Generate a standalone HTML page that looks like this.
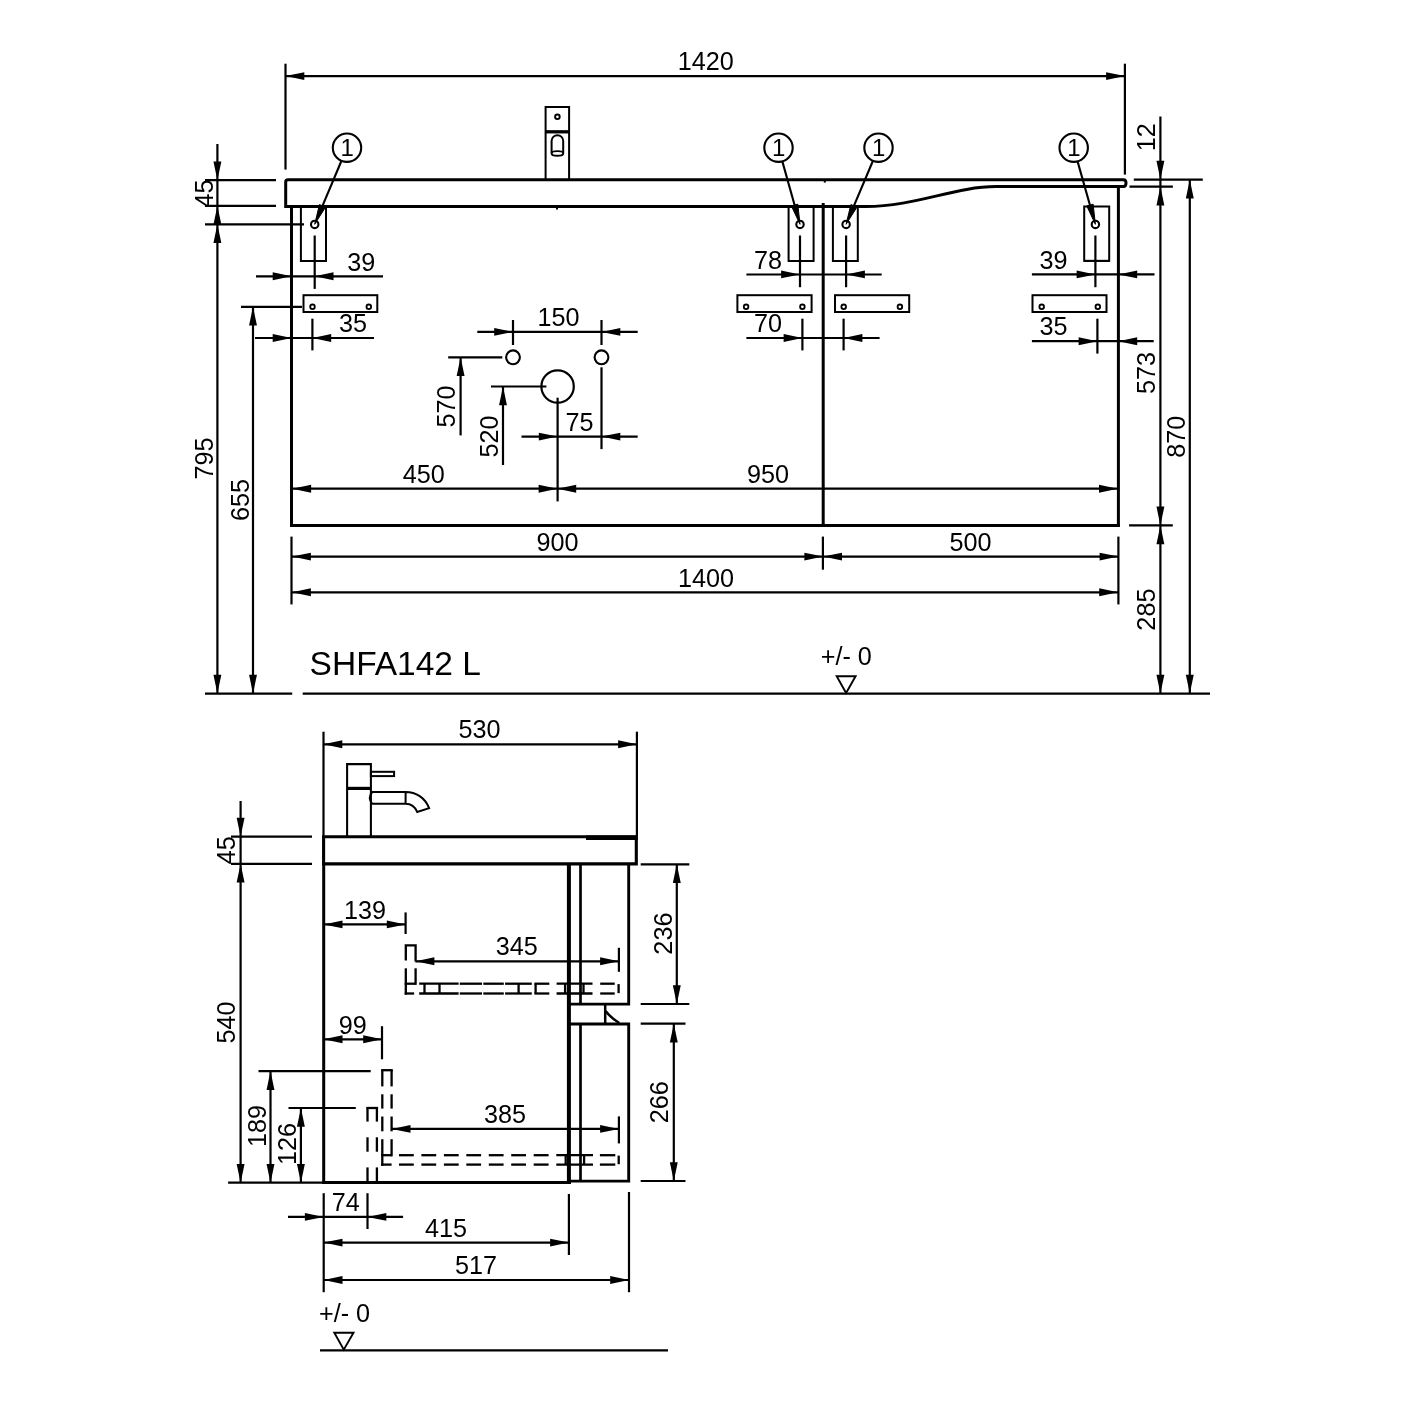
<!DOCTYPE html>
<html><head><meta charset="utf-8"><title>SHFA142 L</title>
<style>
html,body{margin:0;padding:0;background:#fff;}
svg{display:block;will-change:transform;}
svg text{font-family:"Liberation Sans",Arial,sans-serif;fill:#000;stroke:none;}
</style></head><body>
<svg width="1404" height="1404" viewBox="0 0 1404 1404" stroke="#000" fill="none" stroke-linecap="butt">
<rect x="0" y="0" width="1404" height="1404" fill="#fff" stroke="none"/>
<line x1="285.5" y1="63.7" x2="285.5" y2="169.6" stroke-width="2.2"/>
<line x1="1124.9" y1="63.7" x2="1124.9" y2="174.6" stroke-width="2.2"/>
<line x1="285.5" y1="76.1" x2="1124.9" y2="76.1" stroke-width="2.2"/>
<polygon points="285.5,76.1 304.3,72.15 304.3,80.05" fill="#000" stroke="none"/>
<polygon points="1124.9,76.1 1106.1,72.15 1106.1,80.05" fill="#000" stroke="none"/>
<text x="705.7" y="70.3" font-size="25.2" text-anchor="middle">1420</text>
<path d="M285.7,206.5 L285.7,182 Q285.7,179.8 288,179.8 L1123.5,179.8 Q1126,179.8 1126,183 Q1126,186.6 1123.5,186.6 L996,186.6 C955,186.6 915,206.5 866,206.5 Z" stroke-width="3.0" fill="none"/>
<line x1="291.5" y1="206" x2="291.5" y2="526.9" stroke-width="3.0"/>
<line x1="290" y1="525.4" x2="1119.9" y2="525.4" stroke-width="3.0"/>
<line x1="1118.4" y1="186.6" x2="1118.4" y2="526.9" stroke-width="3.0"/>
<line x1="823.2" y1="203" x2="823.2" y2="526.9" stroke-width="3.0"/>
<polyline points="545.6,179.8 545.6,107 569.1,107 569.1,179.8" stroke-width="2.0" fill="none"/>
<line x1="545.6" y1="131.8" x2="569.1" y2="131.8" stroke-width="3.3"/>
<circle cx="557.4" cy="116.8" r="2.3" stroke-width="1.9" fill="none"/>
<path d="M551.6,153.3 L551.6,141 A5.8,5.8 0 0 1 563.2,141 L563.2,153.3" stroke-width="2.0" fill="none"/>
<ellipse cx="557.4" cy="153.4" rx="5.8" ry="2.3" stroke-width="1.9" fill="none"/>
<line x1="557" y1="206.5" x2="557" y2="209.6" stroke-width="2.0"/>
<line x1="824.8" y1="180" x2="824.8" y2="182.6" stroke-width="2.0"/>
<polyline points="300.9,206.5 300.9,260.9 326,260.9 326,206.5" stroke-width="2.0" fill="none"/>
<circle cx="314.7" cy="224.4" r="3.7" stroke-width="2.1" fill="none"/>
<circle cx="347" cy="147.7" r="14.2" stroke-width="2.1" fill="none"/>
<text x="347.3" y="155.6" font-size="24" text-anchor="middle">1</text>
<line x1="341.48" y1="160.78" x2="318.59" y2="215.09" stroke-width="2.1"/>
<polygon points="314.7,224.3 319.43,204.59 325.51,207.15" fill="#000" stroke="#000" stroke-width="1.0" stroke-linejoin="round"/>
<line x1="314.7" y1="235.5" x2="314.7" y2="288.9" stroke-width="2.2"/>
<polyline points="788.6,206.5 788.6,260.9 813.6,260.9 813.6,206.5" stroke-width="2.0" fill="none"/>
<circle cx="800" cy="224.4" r="3.7" stroke-width="2.1" fill="none"/>
<circle cx="778.5" cy="147.7" r="14.2" stroke-width="2.1" fill="none"/>
<text x="778.8" y="155.6" font-size="24" text-anchor="middle">1</text>
<line x1="782.34" y1="161.37" x2="797.3" y2="214.67" stroke-width="2.1"/>
<polygon points="800,224.3 791.42,205.94 797.77,204.15" fill="#000" stroke="#000" stroke-width="1.0" stroke-linejoin="round"/>
<line x1="800" y1="235.5" x2="800" y2="287.2" stroke-width="2.2"/>
<polyline points="832.9,206.5 832.9,260.9 857.8,260.9 857.8,206.5" stroke-width="2.0" fill="none"/>
<circle cx="846.1" cy="224.4" r="3.7" stroke-width="2.1" fill="none"/>
<circle cx="878.5" cy="147.7" r="14.2" stroke-width="2.1" fill="none"/>
<text x="878.8" y="155.6" font-size="24" text-anchor="middle">1</text>
<line x1="872.97" y1="160.78" x2="850.0" y2="215.09" stroke-width="2.1"/>
<polygon points="846.1,224.3 850.85,204.59 856.93,207.17" fill="#000" stroke="#000" stroke-width="1.0" stroke-linejoin="round"/>
<line x1="846.1" y1="235.5" x2="846.1" y2="287.2" stroke-width="2.2"/>
<rect x="1084.2" y="206.5" width="25" height="54.4" stroke-width="2.0" fill="none"/>
<polyline points="1084.2,260.9 1084.2,260.9 1109.2,260.9 1109.2,260.9" stroke-width="2.0" fill="none"/>
<circle cx="1095.4" cy="224.4" r="3.7" stroke-width="2.1" fill="none"/>
<circle cx="1073.7" cy="147.7" r="14.2" stroke-width="2.1" fill="none"/>
<text x="1074.0" y="155.6" font-size="24" text-anchor="middle">1</text>
<line x1="1077.57" y1="161.36" x2="1092.67" y2="214.68" stroke-width="2.1"/>
<polygon points="1095.4,224.3 1086.77,205.96 1093.12,204.16" fill="#000" stroke="#000" stroke-width="1.0" stroke-linejoin="round"/>
<line x1="1095.4" y1="235.5" x2="1095.4" y2="287.2" stroke-width="2.2"/>
<rect x="303.5" y="295.2" width="73.8" height="16.8" stroke-width="2.0" fill="none"/>
<circle cx="312.5" cy="306.8" r="2.3" stroke-width="1.8" fill="none"/>
<circle cx="368.8" cy="306.8" r="2.3" stroke-width="1.8" fill="none"/>
<rect x="737.4" y="295.2" width="74.2" height="16.8" stroke-width="2.0" fill="none"/>
<circle cx="746.1" cy="306.8" r="2.3" stroke-width="1.8" fill="none"/>
<circle cx="802.4" cy="306.8" r="2.3" stroke-width="1.8" fill="none"/>
<rect x="835" y="295.2" width="74.2" height="16.8" stroke-width="2.0" fill="none"/>
<circle cx="843.7" cy="306.8" r="2.3" stroke-width="1.8" fill="none"/>
<circle cx="899.9" cy="306.8" r="2.3" stroke-width="1.8" fill="none"/>
<rect x="1032.5" y="295.2" width="74.0" height="16.8" stroke-width="2.0" fill="none"/>
<circle cx="1041.7" cy="306.8" r="2.3" stroke-width="1.8" fill="none"/>
<circle cx="1097.8" cy="306.8" r="2.3" stroke-width="1.8" fill="none"/>
<line x1="256" y1="276.3" x2="383" y2="276.3" stroke-width="2.2"/>
<polygon points="291.5,276.3 272.7,272.35 272.7,280.25" fill="#000" stroke="none"/>
<polygon points="314.7,276.3 333.5,272.35 333.5,280.25" fill="#000" stroke="none"/>
<text x="361.2" y="271.0" font-size="25.2" text-anchor="middle">39</text>
<line x1="255" y1="338" x2="374" y2="338" stroke-width="2.2"/>
<line x1="312.4" y1="318.7" x2="312.4" y2="350.4" stroke-width="2.2"/>
<polygon points="291.5,338 272.7,334.05 272.7,341.95" fill="#000" stroke="none"/>
<polygon points="312.4,338 331.2,334.05 331.2,341.95" fill="#000" stroke="none"/>
<text x="352.9" y="331.5" font-size="25.2" text-anchor="middle">35</text>
<line x1="746.4" y1="274.5" x2="881.7" y2="274.5" stroke-width="2.2"/>
<polygon points="799.9,274.4 781.1,270.45 781.1,278.35" fill="#000" stroke="none"/>
<polygon points="846.1,274.4 864.9,270.45 864.9,278.35" fill="#000" stroke="none"/>
<text x="768" y="268.9" font-size="25.2" text-anchor="middle">78</text>
<line x1="746.4" y1="338" x2="879.6" y2="338" stroke-width="2.2"/>
<line x1="802.4" y1="318.7" x2="802.4" y2="350.4" stroke-width="2.2"/>
<line x1="843.6" y1="318.7" x2="843.6" y2="350.4" stroke-width="2.2"/>
<polygon points="802.4,338 783.6,334.05 783.6,341.95" fill="#000" stroke="none"/>
<polygon points="843.6,338 862.4,334.05 862.4,341.95" fill="#000" stroke="none"/>
<text x="768" y="331.9" font-size="25.2" text-anchor="middle">70</text>
<line x1="1031.9" y1="274.4" x2="1154.5" y2="274.4" stroke-width="2.2"/>
<polygon points="1095.4,274.4 1076.6,270.45 1076.6,278.35" fill="#000" stroke="none"/>
<polygon points="1118.4,274.4 1137.2,270.45 1137.2,278.35" fill="#000" stroke="none"/>
<text x="1053.5" y="268.9" font-size="25.2" text-anchor="middle">39</text>
<line x1="1031.9" y1="341.2" x2="1153.7" y2="341.2" stroke-width="2.2"/>
<line x1="1097.4" y1="318.7" x2="1097.4" y2="353.6" stroke-width="2.2"/>
<polygon points="1097.4,341.2 1078.6,337.25 1078.6,345.15" fill="#000" stroke="none"/>
<polygon points="1118.4,341.2 1137.2,337.25 1137.2,345.15" fill="#000" stroke="none"/>
<text x="1053.5" y="334.6" font-size="25.2" text-anchor="middle">35</text>
<line x1="477.3" y1="331.9" x2="637.7" y2="331.9" stroke-width="2.2"/>
<line x1="513" y1="320" x2="513" y2="345" stroke-width="2.2"/>
<line x1="601.5" y1="320" x2="601.5" y2="345" stroke-width="2.2"/>
<polygon points="513,331.9 494.2,327.95 494.2,335.85" fill="#000" stroke="none"/>
<polygon points="601.5,331.9 620.3,327.95 620.3,335.85" fill="#000" stroke="none"/>
<text x="558.5" y="325.9" font-size="25.2" text-anchor="middle">150</text>
<circle cx="513" cy="357.3" r="6.9" stroke-width="2.1" fill="none"/>
<circle cx="601.5" cy="357.3" r="6.9" stroke-width="2.1" fill="none"/>
<circle cx="557.6" cy="386.5" r="16.2" stroke-width="2.2" fill="none"/>
<line x1="448.2" y1="357.3" x2="502.3" y2="357.3" stroke-width="2.2"/>
<line x1="460.6" y1="357.3" x2="460.6" y2="435.4" stroke-width="2.2"/>
<polygon points="460.6,357.3 456.65,376.1 464.55,376.1" fill="#000" stroke="none"/>
<text x="455.22" y="406.6" font-size="25.2" text-anchor="middle" transform="rotate(-90 455.22 406.6)">570</text>
<line x1="491" y1="386.5" x2="546.4" y2="386.5" stroke-width="2.2"/>
<line x1="503" y1="386.5" x2="503" y2="465" stroke-width="2.2"/>
<polygon points="503,386.5 499.05,405.3 506.95,405.3" fill="#000" stroke="none"/>
<text x="498.02" y="436.6" font-size="25.2" text-anchor="middle" transform="rotate(-90 498.02 436.6)">520</text>
<line x1="557.6" y1="397.7" x2="557.6" y2="501.4" stroke-width="2.2"/>
<line x1="601.5" y1="367.3" x2="601.5" y2="449.1" stroke-width="2.2"/>
<line x1="521.5" y1="436.6" x2="637.7" y2="436.6" stroke-width="2.2"/>
<polygon points="557.6,436.6 538.8,432.65 538.8,440.55" fill="#000" stroke="none"/>
<polygon points="601.5,436.6 620.3,432.65 620.3,440.55" fill="#000" stroke="none"/>
<text x="579.6" y="431.3" font-size="25.2" text-anchor="middle">75</text>
<line x1="291.5" y1="488.7" x2="1118.4" y2="488.7" stroke-width="2.2"/>
<polygon points="292.3,488.7 311.1,484.75 311.1,492.65" fill="#000" stroke="none"/>
<polygon points="557.4,488.7 538.6,484.75 538.6,492.65" fill="#000" stroke="none"/>
<polygon points="557.4,488.7 576.2,484.75 576.2,492.65" fill="#000" stroke="none"/>
<polygon points="1117.8,488.7 1099.0,484.75 1099.0,492.65" fill="#000" stroke="none"/>
<text x="423.8" y="483.1" font-size="25.2" text-anchor="middle">450</text>
<text x="768.1" y="483.1" font-size="25.2" text-anchor="middle">950</text>
<line x1="291.5" y1="536.6" x2="291.5" y2="604.4" stroke-width="2.2"/>
<line x1="1118.4" y1="536.6" x2="1118.4" y2="604.4" stroke-width="2.2"/>
<line x1="822.9" y1="536.6" x2="822.9" y2="569.7" stroke-width="2.2"/>
<line x1="291.5" y1="556.6" x2="1118.4" y2="556.6" stroke-width="2.2"/>
<polygon points="292.1,556.6 310.9,552.65 310.9,560.55" fill="#000" stroke="none"/>
<polygon points="823.2,556.6 804.4,552.65 804.4,560.55" fill="#000" stroke="none"/>
<polygon points="823.2,556.6 842.0,552.65 842.0,560.55" fill="#000" stroke="none"/>
<polygon points="1118.4,556.6 1099.6,552.65 1099.6,560.55" fill="#000" stroke="none"/>
<text x="557.6" y="551.1" font-size="25.2" text-anchor="middle">900</text>
<text x="970.6" y="551.1" font-size="25.2" text-anchor="middle">500</text>
<line x1="291.5" y1="592.3" x2="1118.4" y2="592.3" stroke-width="2.2"/>
<polygon points="292.1,592.3 310.9,588.35 310.9,596.25" fill="#000" stroke="none"/>
<polygon points="1118,592.3 1099.2,588.35 1099.2,596.25" fill="#000" stroke="none"/>
<text x="706" y="587.1" font-size="25.2" text-anchor="middle">1400</text>
<line x1="205" y1="180.2" x2="276" y2="180.2" stroke-width="2.2"/>
<line x1="205" y1="205.8" x2="276" y2="205.8" stroke-width="2.2"/>
<line x1="205" y1="224.3" x2="304" y2="224.3" stroke-width="2.2"/>
<line x1="217.4" y1="144" x2="217.4" y2="693.6" stroke-width="2.2"/>
<polygon points="217.4,180.2 213.45,161.4 221.35,161.4" fill="#000" stroke="none"/>
<polygon points="217.4,205.8 213.45,224.6 221.35,224.6" fill="#000" stroke="none"/>
<polygon points="217.4,224.3 213.45,243.1 221.35,243.1" fill="#000" stroke="none"/>
<polygon points="217.4,693.6 213.45,674.8 221.35,674.8" fill="#000" stroke="none"/>
<text x="212.52" y="193.6" font-size="25.2" text-anchor="middle" transform="rotate(-90 212.52 193.6)">45</text>
<text x="212.72" y="458.5" font-size="25.2" text-anchor="middle" transform="rotate(-90 212.72 458.5)">795</text>
<line x1="241" y1="306.8" x2="302" y2="306.8" stroke-width="2.2"/>
<line x1="253" y1="306.8" x2="253" y2="693.6" stroke-width="2.2"/>
<polygon points="253,306.8 249.05,325.6 256.95,325.6" fill="#000" stroke="none"/>
<polygon points="253,693.6 249.05,674.8 256.95,674.8" fill="#000" stroke="none"/>
<text x="248.52" y="500" font-size="25.2" text-anchor="middle" transform="rotate(-90 248.52 500)">655</text>
<line x1="205" y1="693.6" x2="292.2" y2="693.6" stroke-width="2.2"/>
<line x1="302.7" y1="693.6" x2="1210" y2="693.6" stroke-width="2.2"/>
<text x="309.6" y="674.8" font-size="33.5" text-anchor="start">SHFA142 L</text>
<text x="846.3" y="664.9" font-size="25.2" text-anchor="middle">+/- 0</text>
<polygon points="836.7,676.2 855.6,676.2 846.1,693" stroke-width="1.9" fill="none"/>
<line x1="1133.8" y1="179.6" x2="1202.8" y2="179.6" stroke-width="2.2"/>
<line x1="1129.5" y1="186.6" x2="1172.9" y2="186.6" stroke-width="2.2"/>
<line x1="1160.4" y1="116.5" x2="1160.4" y2="693.6" stroke-width="2.2"/>
<polygon points="1160.4,179.6 1156.45,160.8 1164.35,160.8" fill="#000" stroke="none"/>
<polygon points="1160.4,186.6 1156.45,205.4 1164.35,205.4" fill="#000" stroke="none"/>
<polygon points="1160.4,525.4 1156.45,506.6 1164.35,506.6" fill="#000" stroke="none"/>
<polygon points="1160.4,525.4 1156.45,544.2 1164.35,544.2" fill="#000" stroke="none"/>
<polygon points="1160.4,693.6 1156.45,674.8 1164.35,674.8" fill="#000" stroke="none"/>
<line x1="1129.1" y1="525.4" x2="1172.8" y2="525.4" stroke-width="2.2"/>
<line x1="1189.8" y1="179.6" x2="1189.8" y2="693.6" stroke-width="2.2"/>
<polygon points="1189.8,179.6 1185.85,198.4 1193.75,198.4" fill="#000" stroke="none"/>
<polygon points="1189.8,693.6 1185.85,674.8 1193.75,674.8" fill="#000" stroke="none"/>
<text x="1155.22" y="137.2" font-size="25.2" text-anchor="middle" transform="rotate(-90 1155.22 137.2)">12</text>
<text x="1155.32" y="373" font-size="25.2" text-anchor="middle" transform="rotate(-90 1155.32 373)">573</text>
<text x="1155.12" y="609.6" font-size="25.2" text-anchor="middle" transform="rotate(-90 1155.12 609.6)">285</text>
<text x="1184.82" y="436.8" font-size="25.2" text-anchor="middle" transform="rotate(-90 1184.82 436.8)">870</text>
<line x1="323.5" y1="731.7" x2="323.5" y2="836.6" stroke-width="2.2"/>
<line x1="636.9" y1="731.7" x2="636.9" y2="836.6" stroke-width="2.2"/>
<line x1="323.5" y1="744.3" x2="636.9" y2="744.3" stroke-width="2.2"/>
<polygon points="323.5,744.3 342.3,740.35 342.3,748.25" fill="#000" stroke="none"/>
<polygon points="636.9,744.3 618.1,740.35 618.1,748.25" fill="#000" stroke="none"/>
<text x="479.5" y="737.7" font-size="25.2" text-anchor="middle">530</text>
<polyline points="347.1,836.8 347.1,764.1 370.9,764.1 370.9,836.8" stroke-width="2.05" fill="none"/>
<line x1="347.1" y1="788.4" x2="370.9" y2="788.4" stroke-width="3.2"/>
<rect x="370.9" y="771.8" width="23.2" height="4.3" stroke-width="2.0" fill="none"/>
<path d="M372.2,792 L405.6,792 C416,792 425,797.5 429.1,808.1 L417.2,812 C415,806.5 411.5,803.7 405.6,803.7 L372.2,803.7 Q367.4,797.8 372.2,792 Z M405.6,792 L405.6,803.7" stroke-width="2.0" fill="none"/>
<path d="M323.6,836.7 L636.3,836.7 L636.3,863.9 L323.6,863.9 Z" stroke-width="3.1" fill="none"/>
<line x1="586" y1="837.7" x2="637.8" y2="837.7" stroke-width="4.4"/>
<line x1="323.7" y1="863.8" x2="323.7" y2="1184.0" stroke-width="3.0"/>
<line x1="322.2" y1="1182.5" x2="570.9" y2="1182.5" stroke-width="3.0"/>
<line x1="568.9" y1="863.8" x2="568.9" y2="1184" stroke-width="4.0"/>
<line x1="580.5" y1="863.8" x2="580.5" y2="1004.1" stroke-width="2.7"/>
<line x1="580.5" y1="1024" x2="580.5" y2="1181" stroke-width="2.7"/>
<polyline points="628.7,863.8 628.7,1004.1 568.9,1004.1" stroke-width="2.9" fill="none"/>
<polyline points="568.9,1024 628.7,1024 628.7,1181.1 568.9,1181.1" stroke-width="2.9" fill="none"/>
<line x1="605.2" y1="1004.1" x2="605.2" y2="1024" stroke-width="2.5"/>
<path d="M605.6,1011 Q611,1018 619.3,1023" stroke-width="2.5" fill="none"/>
<line x1="231" y1="836.6" x2="312" y2="836.6" stroke-width="2.2"/>
<line x1="231" y1="863.8" x2="312" y2="863.8" stroke-width="2.2"/>
<line x1="240.6" y1="801" x2="240.6" y2="1182.7" stroke-width="2.2"/>
<polygon points="240.6,836.6 236.65,817.8 244.55,817.8" fill="#000" stroke="none"/>
<polygon points="240.6,863.8 236.65,882.6 244.55,882.6" fill="#000" stroke="none"/>
<polygon points="240.6,1182.7 236.65,1163.9 244.55,1163.9" fill="#000" stroke="none"/>
<text x="235.42" y="850.3" font-size="25.2" text-anchor="middle" transform="rotate(-90 235.42 850.3)">45</text>
<text x="235.42" y="1022.4" font-size="25.2" text-anchor="middle" transform="rotate(-90 235.42 1022.4)">540</text>
<line x1="228.1" y1="1182.7" x2="323.7" y2="1182.7" stroke-width="2.2"/>
<line x1="323.7" y1="924.4" x2="405.6" y2="924.4" stroke-width="2.2"/>
<line x1="405.6" y1="912.4" x2="405.6" y2="934" stroke-width="2.2"/>
<polygon points="323.7,924.4 342.5,920.45 342.5,928.35" fill="#000" stroke="none"/>
<polygon points="405.6,924.4 386.8,920.45 386.8,928.35" fill="#000" stroke="none"/>
<text x="365" y="918.6" font-size="25.2" text-anchor="middle">139</text>
<polyline points="405.8,960.6 405.8,945.3 415.6,945.3 415.6,961.5" stroke-width="2.3" fill="none"/>
<line x1="405.8" y1="968.3" x2="405.8" y2="994.6" stroke-width="2.3"/>
<line x1="415.6" y1="968.3" x2="415.6" y2="984.8" stroke-width="2.3"/>
<line x1="404.7" y1="983.7" x2="415.8" y2="983.7" stroke-width="2.3"/>
<line x1="419.2" y1="983.7" x2="458.6" y2="983.7" stroke-width="2.3"/>
<line x1="459.8" y1="983.7" x2="482" y2="983.7" stroke-width="2.3"/>
<line x1="483.3" y1="983.7" x2="503.8" y2="983.7" stroke-width="2.3"/>
<line x1="505.1" y1="983.7" x2="531.8" y2="983.7" stroke-width="2.3"/>
<line x1="534.4" y1="983.7" x2="549.3" y2="983.7" stroke-width="2.3"/>
<line x1="556.6" y1="983.7" x2="592.5" y2="983.7" stroke-width="2.3"/>
<line x1="600.2" y1="983.7" x2="614.7" y2="983.7" stroke-width="2.3"/>
<line x1="404.7" y1="993.5" x2="414.1" y2="993.5" stroke-width="2.3"/>
<line x1="419.2" y1="993.5" x2="458.6" y2="993.5" stroke-width="2.3"/>
<line x1="459.8" y1="993.5" x2="482" y2="993.5" stroke-width="2.3"/>
<line x1="483.3" y1="993.5" x2="503.8" y2="993.5" stroke-width="2.3"/>
<line x1="505.1" y1="993.5" x2="531.8" y2="993.5" stroke-width="2.3"/>
<line x1="534.4" y1="993.5" x2="549.3" y2="993.5" stroke-width="2.3"/>
<line x1="556.6" y1="993.5" x2="592.5" y2="993.5" stroke-width="2.3"/>
<line x1="600.2" y1="993.5" x2="614.7" y2="993.5" stroke-width="2.3"/>
<line x1="424.5" y1="983.7" x2="424.5" y2="993.5" stroke-width="2.3"/>
<line x1="439.5" y1="983.7" x2="439.5" y2="993.5" stroke-width="2.3"/>
<line x1="518.6" y1="983.7" x2="518.6" y2="993.5" stroke-width="2.3"/>
<line x1="535.6" y1="983.7" x2="535.6" y2="993.5" stroke-width="2.3"/>
<line x1="565.1" y1="983.7" x2="565.1" y2="993.5" stroke-width="2.3"/>
<line x1="583.5" y1="983.7" x2="583.5" y2="993.5" stroke-width="2.3"/>
<line x1="618.6" y1="984.1" x2="618.6" y2="993.1" stroke-width="2.3"/>
<line x1="415.4" y1="961.3" x2="618.9" y2="961.3" stroke-width="2.2"/>
<line x1="618.9" y1="947.8" x2="618.9" y2="971.8" stroke-width="2.2"/>
<polygon points="415.6,961.3 434.4,957.35 434.4,965.25" fill="#000" stroke="none"/>
<polygon points="618.9,961.3 600.1,957.35 600.1,965.25" fill="#000" stroke="none"/>
<text x="516.8" y="954.7" font-size="25.2" text-anchor="middle">345</text>
<line x1="640.7" y1="864.3" x2="689.3" y2="864.3" stroke-width="2.2"/>
<line x1="640.7" y1="1004" x2="689.3" y2="1004" stroke-width="2.2"/>
<line x1="676.8" y1="864.3" x2="676.8" y2="1004" stroke-width="2.2"/>
<polygon points="676.8,864.3 672.85,883.1 680.75,883.1" fill="#000" stroke="none"/>
<polygon points="676.8,1004 672.85,985.2 680.75,985.2" fill="#000" stroke="none"/>
<text x="672.12" y="933.6" font-size="25.2" text-anchor="middle" transform="rotate(-90 672.12 933.6)">236</text>
<line x1="640.7" y1="1023.7" x2="685.5" y2="1023.7" stroke-width="2.2"/>
<line x1="640.7" y1="1181" x2="685.5" y2="1181" stroke-width="2.2"/>
<line x1="673.8" y1="1023.7" x2="673.8" y2="1181" stroke-width="2.2"/>
<polygon points="673.8,1023.7 669.85,1042.5 677.75,1042.5" fill="#000" stroke="none"/>
<polygon points="673.8,1181 669.85,1162.2 677.75,1162.2" fill="#000" stroke="none"/>
<text x="668.42" y="1102.2" font-size="25.2" text-anchor="middle" transform="rotate(-90 668.42 1102.2)">266</text>
<line x1="323.7" y1="1039.3" x2="382" y2="1039.3" stroke-width="2.2"/>
<line x1="382" y1="1026.2" x2="382" y2="1059.3" stroke-width="2.2"/>
<polygon points="323.7,1039.3 342.5,1035.35 342.5,1043.25" fill="#000" stroke="none"/>
<polygon points="382,1039.3 363.2,1035.35 363.2,1043.25" fill="#000" stroke="none"/>
<text x="352.8" y="1034.1" font-size="25.2" text-anchor="middle">99</text>
<line x1="258.5" y1="1071.1" x2="370.7" y2="1071.1" stroke-width="2.2"/>
<line x1="270.5" y1="1071.1" x2="270.5" y2="1182.7" stroke-width="2.2"/>
<polygon points="270.5,1071.1 266.55,1089.9 274.45,1089.9" fill="#000" stroke="none"/>
<polygon points="270.5,1182.7 266.55,1163.9 274.45,1163.9" fill="#000" stroke="none"/>
<text x="265.52" y="1125.9" font-size="25.2" text-anchor="middle" transform="rotate(-90 265.52 1125.9)">189</text>
<line x1="288.5" y1="1108" x2="355.8" y2="1108" stroke-width="2.2"/>
<line x1="300.9" y1="1108" x2="300.9" y2="1182.7" stroke-width="2.2"/>
<polygon points="300.9,1108 296.95,1126.8 304.85,1126.8" fill="#000" stroke="none"/>
<polygon points="300.9,1182.7 296.95,1163.9 304.85,1163.9" fill="#000" stroke="none"/>
<text x="296.22" y="1144.1" font-size="25.2" text-anchor="middle" transform="rotate(-90 296.22 1144.1)">126</text>
<line x1="382.3" y1="1070.2" x2="382.3" y2="1086.4" stroke-width="2.3"/>
<line x1="391.6" y1="1070.2" x2="391.6" y2="1086.4" stroke-width="2.3"/>
<line x1="382.3" y1="1094.3" x2="382.3" y2="1108.6" stroke-width="2.3"/>
<line x1="391.6" y1="1094.3" x2="391.6" y2="1108.6" stroke-width="2.3"/>
<line x1="382.3" y1="1116.5" x2="382.3" y2="1131.3" stroke-width="2.3"/>
<line x1="391.6" y1="1116.5" x2="391.6" y2="1131.3" stroke-width="2.3"/>
<line x1="381.1" y1="1070.2" x2="392.8" y2="1070.2" stroke-width="2.3"/>
<line x1="382.3" y1="1139.2" x2="382.3" y2="1165.8" stroke-width="2.3"/>
<line x1="391.6" y1="1139.2" x2="391.6" y2="1156.3" stroke-width="2.3"/>
<line x1="381.1" y1="1155.2" x2="391.6" y2="1155.2" stroke-width="2.3"/>
<line x1="399.0" y1="1155.2" x2="413.8" y2="1155.2" stroke-width="2.3"/>
<line x1="421.4" y1="1155.2" x2="436.2" y2="1155.2" stroke-width="2.3"/>
<line x1="443.9" y1="1155.2" x2="458.7" y2="1155.2" stroke-width="2.3"/>
<line x1="466.3" y1="1155.2" x2="481.1" y2="1155.2" stroke-width="2.3"/>
<line x1="488.8" y1="1155.2" x2="503.6" y2="1155.2" stroke-width="2.3"/>
<line x1="511.2" y1="1155.2" x2="526" y2="1155.2" stroke-width="2.3"/>
<line x1="533.7" y1="1155.2" x2="548.6" y2="1155.2" stroke-width="2.3"/>
<line x1="556.3" y1="1155.2" x2="593" y2="1155.2" stroke-width="2.3"/>
<line x1="599.9" y1="1155.2" x2="615.3" y2="1155.2" stroke-width="2.3"/>
<line x1="381.1" y1="1164.6" x2="391.6" y2="1164.6" stroke-width="2.3"/>
<line x1="399.0" y1="1164.6" x2="413.8" y2="1164.6" stroke-width="2.3"/>
<line x1="421.4" y1="1164.6" x2="436.2" y2="1164.6" stroke-width="2.3"/>
<line x1="443.9" y1="1164.6" x2="458.7" y2="1164.6" stroke-width="2.3"/>
<line x1="466.3" y1="1164.6" x2="481.1" y2="1164.6" stroke-width="2.3"/>
<line x1="488.8" y1="1164.6" x2="503.6" y2="1164.6" stroke-width="2.3"/>
<line x1="511.2" y1="1164.6" x2="526" y2="1164.6" stroke-width="2.3"/>
<line x1="533.7" y1="1164.6" x2="548.6" y2="1164.6" stroke-width="2.3"/>
<line x1="556.3" y1="1164.6" x2="593" y2="1164.6" stroke-width="2.3"/>
<line x1="599.9" y1="1164.6" x2="615.3" y2="1164.6" stroke-width="2.3"/>
<line x1="565.7" y1="1155.2" x2="565.7" y2="1164.6" stroke-width="2.3"/>
<line x1="584.1" y1="1155.2" x2="584.1" y2="1164.6" stroke-width="2.3"/>
<line x1="618.7" y1="1155.6" x2="618.7" y2="1164.2" stroke-width="2.3"/>
<line x1="366.3" y1="1108" x2="378.1" y2="1108" stroke-width="2.3"/>
<line x1="367.5" y1="1108" x2="367.5" y2="1121.6" stroke-width="2.3"/>
<line x1="376.9" y1="1108" x2="376.9" y2="1121.6" stroke-width="2.3"/>
<line x1="367.5" y1="1137.3" x2="367.5" y2="1151.7" stroke-width="2.3"/>
<line x1="376.9" y1="1137.3" x2="376.9" y2="1151.7" stroke-width="2.3"/>
<line x1="367.5" y1="1167.4" x2="367.5" y2="1181.3" stroke-width="2.3"/>
<line x1="376.9" y1="1167.4" x2="376.9" y2="1181.3" stroke-width="2.3"/>
<line x1="391.7" y1="1128.9" x2="618.9" y2="1128.9" stroke-width="2.2"/>
<line x1="618.9" y1="1116.4" x2="618.9" y2="1143.4" stroke-width="2.2"/>
<polygon points="391.7,1128.9 410.5,1124.95 410.5,1132.85" fill="#000" stroke="none"/>
<polygon points="618.9,1128.9 600.1,1124.95 600.1,1132.85" fill="#000" stroke="none"/>
<text x="505" y="1123.1" font-size="25.2" text-anchor="middle">385</text>
<line x1="288" y1="1216.9" x2="403.1" y2="1216.9" stroke-width="2.2"/>
<line x1="323.7" y1="1193.2" x2="323.7" y2="1292.2" stroke-width="2.2"/>
<line x1="367.5" y1="1193.2" x2="367.5" y2="1229" stroke-width="2.2"/>
<polygon points="323.7,1216.9 304.9,1212.95 304.9,1220.85" fill="#000" stroke="none"/>
<polygon points="367.5,1216.9 386.3,1212.95 386.3,1220.85" fill="#000" stroke="none"/>
<text x="345.8" y="1211.1" font-size="25.2" text-anchor="middle">74</text>
<line x1="323.7" y1="1242.6" x2="568.9" y2="1242.6" stroke-width="2.2"/>
<line x1="568.9" y1="1194" x2="568.9" y2="1255" stroke-width="2.2"/>
<polygon points="323.7,1242.6 342.5,1238.65 342.5,1246.55" fill="#000" stroke="none"/>
<polygon points="568.9,1242.6 550.1,1238.65 550.1,1246.55" fill="#000" stroke="none"/>
<text x="446" y="1237.0" font-size="25.2" text-anchor="middle">415</text>
<line x1="323.7" y1="1280" x2="629" y2="1280" stroke-width="2.2"/>
<line x1="629" y1="1192" x2="629" y2="1292.2" stroke-width="2.2"/>
<polygon points="323.7,1280 342.5,1276.05 342.5,1283.95" fill="#000" stroke="none"/>
<polygon points="629,1280 610.2,1276.05 610.2,1283.95" fill="#000" stroke="none"/>
<text x="475.9" y="1273.9" font-size="25.2" text-anchor="middle">517</text>
<text x="344.6" y="1322.4" font-size="25.2" text-anchor="middle">+/- 0</text>
<polygon points="334.3,1332.8 353.5,1332.8 343.8,1349.6" stroke-width="1.9" fill="none"/>
<line x1="320" y1="1350.4" x2="668" y2="1350.4" stroke-width="2.2"/>
</svg>
</body></html>
